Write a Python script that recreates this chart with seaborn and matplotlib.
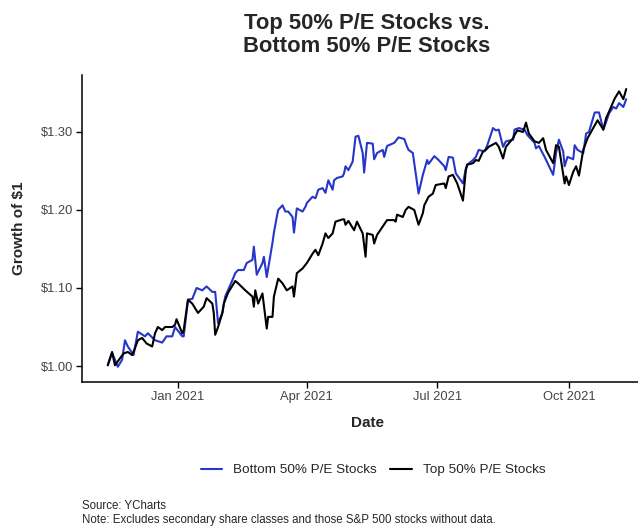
import matplotlib
matplotlib.use("Agg")
import matplotlib.pyplot as plt
import matplotlib.dates as mdates
from matplotlib.ticker import FuncFormatter
import seaborn as sns
import pandas as pd

bottom_dates = [
    "2020-11-13", "2020-11-16", "2020-11-20", "2020-11-23", "2020-11-25", "2020-11-27", "2020-12-01",
    "2020-12-04", "2020-12-09", "2020-12-11", "2020-12-16", "2020-12-21", "2020-12-24", "2020-12-28",
    "2020-12-30", "2021-01-04", "2021-01-05", "2021-01-08", "2021-01-11", "2021-01-14", "2021-01-18",
    "2021-01-21", "2021-01-25", "2021-01-27", "2021-01-29", "2021-02-01", "2021-02-03", "2021-02-08",
    "2021-02-10", "2021-02-12", "2021-02-16", "2021-02-18", "2021-02-22", "2021-02-23", "2021-02-25",
    "2021-03-01", "2021-03-02", "2021-03-04", "2021-03-08", "2021-03-09", "2021-03-11", "2021-03-12",
    "2021-03-15", "2021-03-17", "2021-03-19", "2021-03-22", "2021-03-23", "2021-03-25", "2021-03-29",
    "2021-03-31", "2021-04-01", "2021-04-05", "2021-04-07", "2021-04-09", "2021-04-12", "2021-04-14",
    "2021-04-16", "2021-04-19", "2021-04-20", "2021-04-22", "2021-04-26", "2021-04-27", "2021-04-28",
    "2021-04-30", "2021-05-03", "2021-05-05", "2021-05-07", "2021-05-10", "2021-05-11", "2021-05-13",
    "2021-05-17", "2021-05-18", "2021-05-20", "2021-05-24", "2021-05-25", "2021-05-27", "2021-06-01",
    "2021-06-04", "2021-06-08", "2021-06-10", "2021-06-11", "2021-06-14", "2021-06-18", "2021-06-21",
    "2021-06-24", "2021-06-25", "2021-06-29", "2021-07-02", "2021-07-06", "2021-07-07", "2021-07-09",
    "2021-07-12", "2021-07-14", "2021-07-19", "2021-07-21", "2021-07-22", "2021-07-26", "2021-07-28",
    "2021-07-30", "2021-08-03", "2021-08-05", "2021-08-09", "2021-08-11", "2021-08-13", "2021-08-16",
    "2021-08-18", "2021-08-23", "2021-08-24", "2021-08-27", "2021-08-31", "2021-09-02", "2021-09-07",
    "2021-09-08", "2021-09-10", "2021-09-14", "2021-09-20", "2021-09-22", "2021-09-24", "2021-09-27",
    "2021-09-28", "2021-09-30", "2021-10-04", "2021-10-05", "2021-10-07", "2021-10-11", "2021-10-13",
    "2021-10-15", "2021-10-19", "2021-10-22", "2021-10-25", "2021-10-27", "2021-10-29", "2021-11-01",
    "2021-11-03", "2021-11-05", "2021-11-08", "2021-11-10",
]
bottom_values = [
    1.001, 1.017, 0.999, 1.008, 1.033, 1.025, 1.014,
    1.044, 1.038, 1.042, 1.033, 1.030, 1.038, 1.038,
    1.050, 1.038, 1.038, 1.085, 1.086, 1.100, 1.097,
    1.102, 1.095, 1.095, 1.055, 1.068, 1.089, 1.110,
    1.119, 1.123, 1.123, 1.132, 1.136, 1.153, 1.117,
    1.132, 1.140, 1.114, 1.158, 1.171, 1.191, 1.200,
    1.206, 1.198, 1.198, 1.191, 1.171, 1.202, 1.198,
    1.204, 1.209, 1.217, 1.215, 1.226, 1.228, 1.222,
    1.238, 1.226, 1.238, 1.241, 1.243, 1.247, 1.256,
    1.251, 1.262, 1.294, 1.295, 1.273, 1.248, 1.286,
    1.285, 1.265, 1.273, 1.277, 1.268, 1.282, 1.286,
    1.293, 1.291, 1.281, 1.277, 1.273, 1.221, 1.245,
    1.264, 1.259, 1.269, 1.264, 1.256, 1.251, 1.268,
    1.267, 1.247, 1.234, 1.253, 1.258, 1.264, 1.268,
    1.277, 1.275, 1.283, 1.305, 1.302, 1.303, 1.281,
    1.288, 1.290, 1.303, 1.305, 1.303, 1.296, 1.286,
    1.279, 1.282, 1.268, 1.245, 1.273, 1.290, 1.275,
    1.256, 1.268, 1.265, 1.283, 1.277, 1.273, 1.298,
    1.300, 1.325, 1.325, 1.303, 1.313, 1.324, 1.332,
    1.330, 1.337, 1.332, 1.342,
]

top_dates = [
    "2020-11-13", "2020-11-16", "2020-11-18", "2020-11-20", "2020-11-24", "2020-11-27", "2020-11-30",
    "2020-12-02", "2020-12-04", "2020-12-07", "2020-12-10", "2020-12-14", "2020-12-16", "2020-12-18",
    "2020-12-21", "2020-12-23", "2020-12-28", "2020-12-30", "2020-12-31", "2021-01-04", "2021-01-05",
    "2021-01-08", "2021-01-11", "2021-01-15", "2021-01-19", "2021-01-21", "2021-01-25", "2021-01-26",
    "2021-01-27", "2021-01-29", "2021-02-01", "2021-02-02", "2021-02-05", "2021-02-10", "2021-02-12",
    "2021-02-17", "2021-02-22", "2021-02-23", "2021-02-24", "2021-02-26", "2021-03-01", "2021-03-04",
    "2021-03-05", "2021-03-08", "2021-03-09", "2021-03-12", "2021-03-15", "2021-03-18", "2021-03-22",
    "2021-03-23", "2021-03-25", "2021-03-29", "2021-04-01", "2021-04-05", "2021-04-07", "2021-04-09",
    "2021-04-12", "2021-04-14", "2021-04-16", "2021-04-19", "2021-04-21", "2021-04-26", "2021-04-27",
    "2021-04-28", "2021-04-30", "2021-05-04", "2021-05-06", "2021-05-10", "2021-05-12", "2021-05-13",
    "2021-05-17", "2021-05-18", "2021-05-20", "2021-05-24", "2021-05-27", "2021-06-01", "2021-06-02",
    "2021-06-03", "2021-06-07", "2021-06-09", "2021-06-11", "2021-06-15", "2021-06-18", "2021-06-21",
    "2021-06-22", "2021-06-25", "2021-06-28", "2021-06-30", "2021-07-06", "2021-07-07", "2021-07-09",
    "2021-07-12", "2021-07-15", "2021-07-19", "2021-07-21", "2021-07-22", "2021-07-26", "2021-07-28",
    "2021-07-30", "2021-08-02", "2021-08-04", "2021-08-06", "2021-08-11", "2021-08-13", "2021-08-16",
    "2021-08-18", "2021-08-23", "2021-08-24", "2021-08-26", "2021-08-30", "2021-09-01", "2021-09-02",
    "2021-09-03", "2021-09-07", "2021-09-10", "2021-09-13", "2021-09-15", "2021-09-20", "2021-09-22",
    "2021-09-24", "2021-09-28", "2021-09-29", "2021-10-01", "2021-10-04", "2021-10-06", "2021-10-08",
    "2021-10-11", "2021-10-14", "2021-10-18", "2021-10-21", "2021-10-25", "2021-10-27", "2021-10-29",
    "2021-11-02", "2021-11-05", "2021-11-08", "2021-11-10",
]
top_values = [
    1.001, 1.018, 1.001, 1.006, 1.016, 1.018, 1.014,
    1.023, 1.033, 1.036, 1.029, 1.025, 1.042, 1.050,
    1.046, 1.050, 1.050, 1.053, 1.060, 1.042, 1.046,
    1.085, 1.080, 1.068, 1.076, 1.087, 1.080, 1.068,
    1.040, 1.050, 1.068, 1.080, 1.094, 1.109, 1.106,
    1.097, 1.089, 1.076, 1.097, 1.080, 1.093, 1.048,
    1.063, 1.063, 1.089, 1.112, 1.106, 1.097, 1.102,
    1.089, 1.119, 1.125, 1.132, 1.144, 1.149, 1.142,
    1.157, 1.170, 1.164, 1.170, 1.185, 1.188, 1.188,
    1.181, 1.186, 1.174, 1.185, 1.170, 1.140, 1.170,
    1.168, 1.157, 1.168, 1.179, 1.187, 1.187, 1.185,
    1.194, 1.191, 1.200, 1.204, 1.200, 1.181, 1.196,
    1.206, 1.217, 1.221, 1.232, 1.234, 1.228, 1.243,
    1.245, 1.234, 1.212, 1.251, 1.258, 1.260, 1.264,
    1.263, 1.275, 1.277, 1.281, 1.286, 1.281, 1.266,
    1.281, 1.292, 1.296, 1.302, 1.300, 1.312, 1.305,
    1.298, 1.288, 1.286, 1.292, 1.277, 1.260, 1.283,
    1.281, 1.234, 1.243, 1.232, 1.249, 1.256, 1.244,
    1.277, 1.292, 1.305, 1.315, 1.303, 1.318, 1.326,
    1.343, 1.352, 1.342, 1.355,
]

series_names = ["Bottom 50% P/E Stocks", "Top 50% P/E Stocks"]
series_colors = ["#2636C8", "#000000"]
y_ticks = [1.00, 1.10, 1.20, 1.30]

df = pd.concat([
    pd.DataFrame({"Date": pd.to_datetime(bottom_dates), "Growth": bottom_values, "Series": series_names[0]}),
    pd.DataFrame({"Date": pd.to_datetime(top_dates), "Growth": top_values, "Series": series_names[1]}),
], ignore_index=True)

sns.set_style("white")
plt.rcParams["font.family"] = ["Liberation Sans", "DejaVu Sans"]

W, H = 638, 527
fig = plt.figure(figsize=(W / 100, H / 100), dpi=100)
# panel in pixel coords (left, top, right, bottom)
pl, pt, pr, pb = 82, 75, 652, 382
ax = fig.add_axes([pl / W, 1 - pb / H, (pr - pl) / W, (pb - pt) / H])

sns.lineplot(data=df, x="Date", y="Growth", hue="Series", hue_order=series_names,
             palette=dict(zip(series_names, series_colors)), estimator=None,
             linewidth=1.5, ax=ax)

ax.set_xlim(pd.Timestamp("2020-10-26"), pd.Timestamp("2021-11-28"))
ax.set_ylim(0.9795, 1.373)
ax.set_yticks(y_ticks)
ax.yaxis.set_major_formatter(FuncFormatter(lambda v, p: f"${v:.2f}"))
ax.xaxis.set_major_locator(mdates.MonthLocator(bymonth=[1, 4, 7, 10]))
ax.xaxis.set_major_formatter(mdates.DateFormatter("%b %Y"))

for s in ["top", "right"]:
    ax.spines[s].set_visible(False)
for s in ["left", "bottom"]:
    ax.spines[s].set_color("black")
    ax.spines[s].set_linewidth(1.1)
ax.tick_params(axis="both", which="major", length=4, width=1.0, color="black",
               labelsize=9.3, labelcolor="#444444", pad=2.5, left=True, bottom=True)

ax.set_xlabel("Date", fontsize=11, fontweight="bold")
ax.set_ylabel("Growth of $1", fontsize=11, fontweight="bold")
ax.xaxis.set_label_coords(0.5, (pb - 423) / (pb - pt))
ax.yaxis.set_label_coords((19 - pl) / (pr - pl), 0.5)
ax.xaxis.label.set_va("center")
ax.yaxis.label.set_va("center")

fig.text(((pl + pr) / 2) / W, 1 - 35 / H, "Top 50% P/E Stocks vs.\nBottom 50% P/E Stocks",
         ha="center", va="center", fontsize=15.8, fontweight="bold", linespacing=1.12)

sns.move_legend(ax, loc="center", bbox_to_anchor=((373 - pl) / (pr - pl), (pb - 470) / (pb - pt)),
                ncol=2, frameon=False, title=None, fontsize=9.7, handlelength=1.6,
                columnspacing=1.0, handletextpad=0.8)

fig.text(pl / W, 1 - 506 / H, "Source: YCharts", ha="left", va="center", fontsize=8.3)
fig.text(pl / W, 1 - 520 / H,
         "Note: Excludes secondary share classes and those S&P 500 stocks without data.",
         ha="left", va="center", fontsize=8.3)

fig.savefig("out.png", dpi=100)
